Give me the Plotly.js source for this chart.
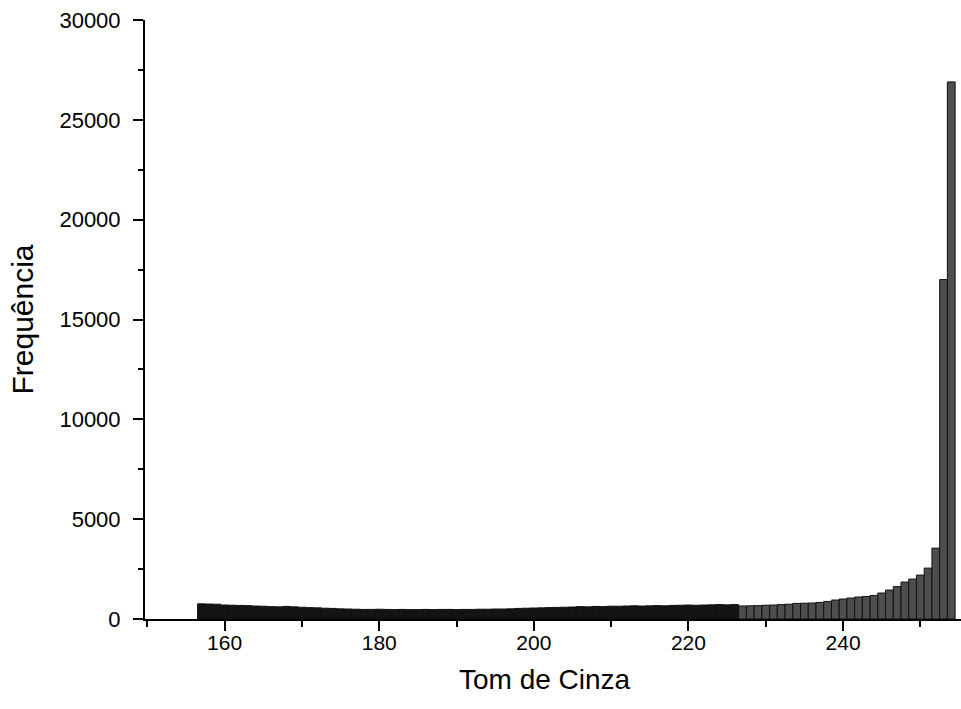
<!DOCTYPE html>
<html>
<head>
<meta charset="utf-8">
<script src="https://cdn.plot.ly/plotly-3.0.1.min.js"></script>
<style>html,body{margin:0;padding:0;background:#fff;}#chart{width:961px;height:709px;}</style>
</head>
<body>
<div id="chart"></div>
<script>
// Gray tone (Tom de Cinza) bins
const tones = [];
for (let t = 157; t <= 254; t++) tones.push(t);

// Frequency per gray tone
const freq = [
  760, 750, 740, 700, 690, 680, 670, 650, 640, 620,   // 157-166
  610, 630, 610, 590, 570, 560, 540, 530, 510, 500,   // 167-176
  490, 480, 480, 490, 480, 470, 480, 470, 470, 480,   // 177-186
  470, 480, 480, 470, 480, 480, 490, 490, 500, 500,   // 187-196
  510, 530, 540, 550, 560, 570, 580, 590, 600, 620,   // 197-206
  610, 630, 620, 640, 640, 650, 660, 650, 660, 670,   // 207-216
  660, 680, 690, 700, 690, 700, 710, 720, 710, 720,   // 217-226
  650, 660, 670, 690, 700, 720, 740, 780, 790, 800,   // 227-236
  830, 880, 950, 1000, 1050, 1100, 1130, 1180, 1300, 1450, // 237-246
  1620, 1850, 2000, 2200, 2550, 3550, 17000, 26900    // 247-254
];

const xTickVals = [160, 180, 200, 220, 240];
const yTickVals = [0, 5000, 10000, 15000, 20000, 25000, 30000];
const xTitle = 'Tom de Cinza';
const yTitle = 'Frequência';

const barColors = tones.map(t => t <= 226 ? '#141414' : '#4e4e4e');

const trace = {
  type: 'bar',
  x: tones,
  y: freq,
  width: 1,
  marker: { color: barColors, line: { color: '#111', width: 1 } },
  hoverinfo: 'x+y'
};

const layout = {
  width: 961,
  height: 709,
  margin: { l: 145, r: 0, t: 20, b: 90 },
  paper_bgcolor: '#fff',
  plot_bgcolor: '#fff',
  showlegend: false,
  bargap: 0,
  font: { family: 'Liberation Sans, Arial, sans-serif', color: '#000' },
  xaxis: {
    range: [149.7, 255.26],
    tickvals: xTickVals,
    ticktext: xTickVals.map(String),
    ticks: 'outside',
    ticklen: 10,
    tickwidth: 2,
    tickcolor: '#000',
    ticklabelstandoff: -6,
    minor: { ticks: 'outside', tickvals: [150, 170, 190, 210, 230, 250], ticklen: 6, tickwidth: 2, tickcolor: '#000' },
    showline: true,
    linecolor: '#000',
    linewidth: 2,
    showgrid: false,
    zeroline: false,
    tickfont: { size: 21, color: '#000' }
  },
  yaxis: {
    range: [0, 30000],
    tickvals: yTickVals,
    ticktext: yTickVals.map(String),
    ticks: 'outside',
    ticklen: 10,
    tickwidth: 2,
    tickcolor: '#000',
    ticklabelstandoff: 8,
    minor: { ticks: 'outside', dtick: 2500, tick0: 0, ticklen: 5, tickwidth: 2, tickcolor: '#000' },
    showline: true,
    linecolor: '#000',
    linewidth: 2,
    showgrid: false,
    zeroline: false,
    tickfont: { size: 22, color: '#000' },
    title: { text: yTitle, font: { size: 30, color: '#000' }, standoff: 17 }
  },
  annotations: [{
    text: xTitle,
    xref: 'paper', yref: 'paper',
    x: 0.49, y: -0.101,
    xanchor: 'center', yanchor: 'middle',
    showarrow: false,
    font: { size: 28, color: '#000' }
  }]
};

Plotly.newPlot('chart', [trace], layout, { displayModeBar: false, staticPlot: true });
</script>
</body>
</html>
